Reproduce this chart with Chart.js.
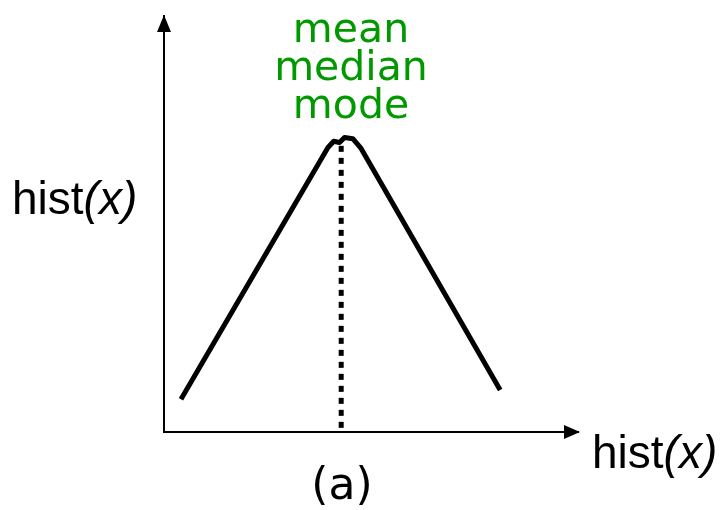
<!DOCTYPE html>
<html>
<head>
<meta charset="utf-8">
<script src="https://cdn.jsdelivr.net/npm/chart.js@4"></script>
<style>
  html, body { margin: 0; padding: 0; background: #fff; }
  canvas { display: block; }
</style>
</head>
<body>
<canvas id="chart" width="722" height="510"></canvas>
<script>
// hist(x) sketch: a peaked curve with mean/median/mode marked at the top

const curveX = [4.1, 39.6, 41.0, 42.4, 43.6, 45.6, 47.5, 81.2];
const curveY = [7.9, 68.4, 69.9, 69.6, 70.8, 70.5, 68.3, 10.1];
const centreX = [42.8, 42.8];
const centreY = [1, 70.2];
const peakLabels = ['mean', 'median', 'mode'];
const axisLabel = 'hist';
const axisVar = '(x)';
const panelLabel = '(a)';

const toPoints = (xs, ys) => xs.map((x, i) => ({ x: x, y: ys[i] }));

// arrows on the axes and the text labels
const sketchPlugin = {
  id: 'sketch',
  afterDraw(chart) {
    const { ctx, chartArea: a } = chart;
    ctx.save();
    ctx.fillStyle = '#000';

    // y arrow
    ctx.beginPath();
    ctx.moveTo(a.left, a.top - 1);
    ctx.lineTo(a.left - 7, a.top + 16);
    ctx.lineTo(a.left + 7, a.top + 16);
    ctx.closePath();
    ctx.fill();

    // x arrow
    ctx.beginPath();
    ctx.moveTo(a.right + 2, a.bottom);
    ctx.lineTo(a.right - 14, a.bottom - 7);
    ctx.lineTo(a.right - 14, a.bottom + 7);
    ctx.closePath();
    ctx.fill();

    // green labels over the peak
    ctx.fillStyle = '#009900';
    ctx.font = '41px "DejaVu Sans"';
    ctx.textAlign = 'center';
    ctx.textBaseline = 'alphabetic';
    peakLabels.forEach((t, i) => ctx.fillText(t, 351, 42 + i * 38));

    // axis labels
    ctx.fillStyle = '#000';
    const drawHist = (x, y) => {
      ctx.textAlign = 'left';
      ctx.font = '46px "Liberation Sans"';
      ctx.fillText(axisLabel, x, y);
      const w = ctx.measureText(axisLabel).width;
      ctx.font = 'italic 46px "Liberation Sans"';
      ctx.fillText(axisVar, x + w, y);
    };
    drawHist(12, 214);
    drawHist(592, 468);

    ctx.font = '44px "DejaVu Sans"';
    ctx.textAlign = 'center';
    ctx.fillText(panelLabel, 342, 499);
    ctx.restore();
  }
};

new Chart(document.getElementById('chart'), {
  type: 'scatter',
  data: {
    datasets: [
      {
        data: toPoints(curveX, curveY),
        showLine: true,
        borderColor: '#000',
        borderWidth: 5,
        borderJoinStyle: 'round',
        pointRadius: 0,
        tension: 0
      },
      {
        data: toPoints(centreX, centreY),
        showLine: true,
        borderColor: '#000',
        borderWidth: 5,
        borderDash: [6, 6],
        pointRadius: 0
      }
    ]
  },
  options: {
    responsive: false,
    animation: false,
    layout: { padding: { left: 156, right: 144, top: 16, bottom: 70 } },
    plugins: { legend: { display: false }, tooltip: { enabled: false } },
    scales: {
      x: {
        type: 'linear', min: 0, max: 100,
        ticks: { display: false },
        grid: { display: false },
        border: { display: true, color: '#000', width: 2 }
      },
      y: {
        type: 'linear', min: 0, max: 100,
        ticks: { display: false },
        grid: { display: false },
        border: { display: true, color: '#000', width: 2 }
      }
    }
  },
  plugins: [sketchPlugin]
});
</script>
</body>
</html>
